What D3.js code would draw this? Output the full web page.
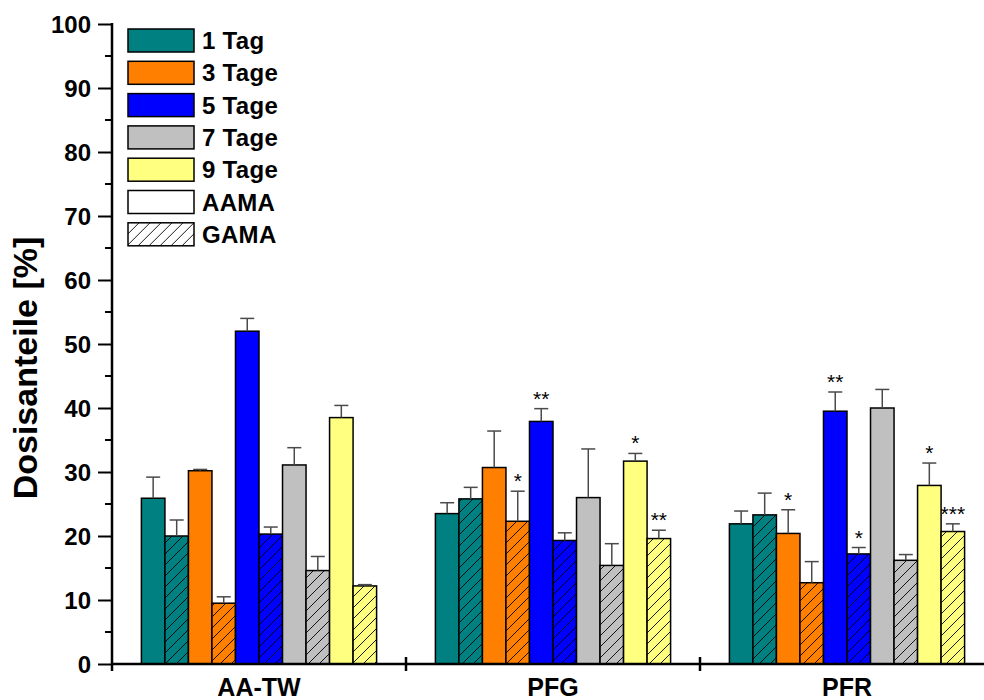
<!DOCTYPE html>
<html>
<head>
<meta charset="utf-8">
<script src="https://cdn.jsdelivr.net/npm/d3@7"></script>
<style>
  body { margin: 0; background: #fff; }
  text { font-family: Arial, "Liberation Sans", sans-serif; }
</style>
</head>
<body>
<div id="chart"></div>
<script>
// Data
// =================================
const categories = ["AA-TW", "PFG", "PFR"];
const days = ["1 Tag", "3 Tage", "5 Tage", "7 Tage", "9 Tage"];
const metabolites = ["AAMA", "GAMA"];
const dayColors = ["#008080", "#FF8000", "#0000FF", "#C0C0C0", "#FFFF80"];

// rows = categories, columns = days
const aamaMeans = [
  [25.9, 30.2, 52.0, 31.1, 38.5],
  [23.5, 30.7, 37.9, 26.0, 31.7],
  [21.9, 20.4, 39.5, 40.0, 27.9]
];
const aamaErrors = [
  [3.3, 0.2, 2.0, 2.7, 1.9],
  [1.7, 5.7, 2.0, 7.6, 1.2],
  [2.0, 3.7, 3.0, 2.9, 3.5]
];
const gamaMeans = [
  [20.0, 9.5, 20.3, 14.6, 12.2],
  [25.8, 22.3, 19.3, 15.4, 19.6],
  [23.3, 12.7, 17.2, 16.2, 20.7]
];
const gamaErrors = [
  [2.5, 1.0, 1.1, 2.2, 0.2],
  [1.8, 4.7, 1.2, 3.4, 1.3],
  [3.4, 3.3, 1.0, 0.9, 1.2]
];
const aamaStars = [
  ["", "", "", "", ""],
  ["", "", "**", "", "*"],
  ["", "*", "**", "", "*"]
];
const gamaStars = [
  ["", "", "", "", ""],
  ["", "*", "", "", "**"],
  ["", "", "*", "", "***"]
];
const yTicks = [0, 10, 20, 30, 40, 50, 60, 70, 80, 90, 100];

// Set up chart
// =================================
const svgWidth = 984;
const svgHeight = 700;
const margin = { top: 24, right: -10, bottom: 36, left: 112 };
const width = svgWidth - margin.left - margin.right;
const height = svgHeight - margin.top - margin.bottom;

const svg = d3.select("#chart")
  .append("svg")
  .attr("width", svgWidth)
  .attr("height", svgHeight);

// hatch patterns
const defs = svg.append("defs");
const hatchFills = dayColors.concat(["#FFFFFF"]);
hatchFills.forEach((c, i) => {
  const p = defs.append("pattern")
    .attr("id", "hatch" + i)
    .attr("patternUnits", "userSpaceOnUse")
    .attr("width", 11)
    .attr("height", 11);
  p.append("rect").attr("width", 11).attr("height", 11).attr("fill", c);
  p.append("path")
    .attr("d", "M0,11 L11,0 M-2,2 L2,-2 M9,13 L13,9")
    .attr("stroke", "#000")
    .attr("stroke-width", 0.9);
});

const chartGroup = svg.append("g")
  .attr("transform", `translate(${margin.left}, ${margin.top})`);

// Flatten
// =================================
const bars = [];
categories.forEach((cat, ci) => {
  days.forEach((day, di) => {
    bars.push({ cat, key: di * 2, di, hatch: false, value: aamaMeans[ci][di], err: aamaErrors[ci][di], star: aamaStars[ci][di] });
    bars.push({ cat, key: di * 2 + 1, di, hatch: true, value: gamaMeans[ci][di], err: gamaErrors[ci][di], star: gamaStars[ci][di] });
  });
});

// Scales
// =================================
const xScale = d3.scaleBand()
  .domain(categories)
  .range([0, width])
  .padding(0);

const innerScale = d3.scaleBand()
  .domain(d3.range(10))
  .range([0, xScale.bandwidth()])
  .paddingInner(0)
  .paddingOuter(1.25);

const yScale = d3.scaleLinear()
  .domain([0, 100])
  .range([height, 0]);

// Bars
// =================================
chartGroup.selectAll("rect.bar")
  .data(bars)
  .enter()
  .append("rect")
  .attr("class", "bar")
  .attr("x", d => xScale(d.cat) + innerScale(d.key))
  .attr("y", d => yScale(d.value))
  .attr("width", innerScale.bandwidth())
  .attr("height", d => yScale(0) - yScale(d.value))
  .attr("fill", d => d.hatch ? `url(#hatch${d.di})` : dayColors[d.di])
  .attr("stroke", "#000")
  .attr("stroke-width", 1.5);

// Error bars (upper only)
const cx = d => xScale(d.cat) + innerScale(d.key) + innerScale.bandwidth() / 2;
const errG = chartGroup.append("g")
  .attr("stroke", "#4a4a4a")
  .attr("stroke-width", 1.5);
errG.selectAll("line.v")
  .data(bars)
  .enter()
  .append("line")
  .attr("x1", cx).attr("x2", cx)
  .attr("y1", d => yScale(d.value))
  .attr("y2", d => yScale(d.value + d.err));
errG.selectAll("line.cap")
  .data(bars)
  .enter()
  .append("line")
  .attr("x1", d => cx(d) - 7).attr("x2", d => cx(d) + 7)
  .attr("y1", d => yScale(d.value + d.err))
  .attr("y2", d => yScale(d.value + d.err));

// significance stars
chartGroup.selectAll("text.star")
  .data(bars.filter(d => d.star))
  .enter()
  .append("text")
  .attr("class", "star")
  .attr("x", cx)
  .attr("y", d => yScale(d.value + d.err) - 3)
  .attr("text-anchor", "middle")
  .style("font-size", "21px")
  .text(d => d.star);

// Axes
// =================================
const leftAxis = d3.axisLeft(yScale)
  .tickValues(yTicks)
  .tickSize(14)
  .tickPadding(7);

const yAxisG = chartGroup.append("g").call(leftAxis);
yAxisG.select(".domain").remove();
yAxisG.selectAll("line").attr("stroke", "#000").attr("stroke-width", 2);
yAxisG.selectAll("text")
  .style("font-size", "24px")
  .style("font-weight", "bold")
  .attr("dy", "0.36em");

// minor ticks
chartGroup.append("g")
  .selectAll("line")
  .data(d3.range(5, 100, 10))
  .enter()
  .append("line")
  .attr("x1", -7).attr("x2", 0)
  .attr("y1", d => yScale(d)).attr("y2", d => yScale(d))
  .attr("stroke", "#000")
  .attr("stroke-width", 2);

// y axis line
chartGroup.append("line")
  .attr("x1", 0).attr("x2", 0)
  .attr("y1", yScale(100) - 1).attr("y2", yScale(0) + 7)
  .attr("stroke", "#000")
  .attr("stroke-width", 2.5);

// x axis line and group boundary ticks
chartGroup.append("line")
  .attr("x1", 0).attr("x2", width)
  .attr("y1", yScale(0)).attr("y2", yScale(0))
  .attr("stroke", "#000")
  .attr("stroke-width", 2.5);

chartGroup.append("g")
  .selectAll("line")
  .data(categories.slice(1))
  .enter()
  .append("line")
  .attr("x1", d => xScale(d)).attr("x2", d => xScale(d))
  .attr("y1", yScale(0) - 7).attr("y2", yScale(0) + 7)
  .attr("stroke", "#000")
  .attr("stroke-width", 2.5);

// category labels
chartGroup.append("g")
  .selectAll("text")
  .data(categories)
  .enter()
  .append("text")
  .attr("x", d => xScale(d) + xScale.bandwidth() / 2)
  .attr("y", height + 32)
  .attr("text-anchor", "middle")
  .style("font-size", "25px")
  .style("font-weight", "bold")
  .text(d => d);

// y axis title
svg.append("text")
  .attr("transform", `translate(37, 368) rotate(-90)`)
  .attr("text-anchor", "middle")
  .style("font-size", "34px")
  .style("font-weight", "bold")
  .text("Dosisanteile [%]");

// Legend
// =================================
const legendItems = days.map((d, i) => ({ label: d, fill: dayColors[i] }))
  .concat([{ label: metabolites[0], fill: "#FFFFFF" }, { label: metabolites[1], fill: "url(#hatch5)" }]);

const legend = svg.append("g")
  .attr("transform", "translate(128, 29)");

const legendRow = legend.selectAll("g")
  .data(legendItems)
  .enter()
  .append("g")
  .attr("transform", (d, i) => `translate(0, ${i * 32.3})`);

legendRow.append("rect")
  .attr("width", 66)
  .attr("height", 23)
  .attr("fill", d => d.fill)
  .attr("stroke", "#000")
  .attr("stroke-width", 1.5);

legendRow.append("text")
  .attr("x", 74)
  .attr("y", 20)
  .style("font-size", "24px")
  .style("font-weight", "bold")
  .style("letter-spacing", "0.3px")
  .text(d => d.label);
</script>
</body>
</html>
